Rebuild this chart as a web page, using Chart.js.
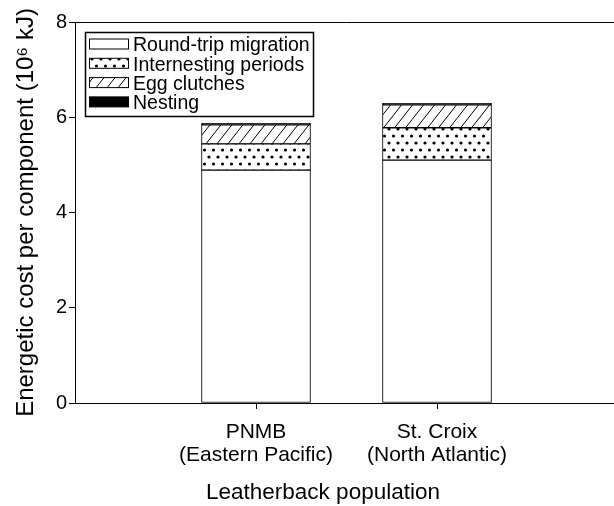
<!DOCTYPE html>
<html>
<head>
<meta charset="utf-8">
<script src="https://cdn.jsdelivr.net/npm/chart.js@4"></script>
<style>
  html, body { margin: 0; padding: 0; background: #fff; overflow: hidden; }
  #wrap { width: 614px; height: 506px; overflow: hidden; }
</style>
</head>
<body>
<div id="wrap"><canvas id="chart1" width="618" height="506"></canvas></div>
<script>
const labels = [
    '',
    ['PNMB', '(Eastern Pacific)'],
    ['St. Croix', '(North Atlantic)'],
    '',
];
const migration = [null, 4.89, 5.10, null];
const internesting = [null, 0.55, 0.68, null];
const eggs = [null, 0.40, 0.48, null];
const nesting = [null, 0.03, 0.03, null];
const yTicks = [0, 2, 4, 6, 8];

const FONT = "'Liberation Sans', Arial, Helvetica, sans-serif";

function dotPattern() {
    const c = document.createElement('canvas');
    c.width = 9; c.height = 14;
    const g = c.getContext('2d');
    g.fillStyle = '#fff';
    g.fillRect(0, 0, 9, 14);
    g.fillStyle = '#000';
    g.beginPath(); g.arc(2, 3, 1.6, 0, Math.PI * 2); g.fill();
    g.beginPath(); g.arc(6.5, 10, 1.6, 0, Math.PI * 2); g.fill();
    return g.createPattern(c, 'repeat');
}

function hatchPattern() {
    const w = 11, h = 14;
    const c = document.createElement('canvas');
    c.width = w; c.height = h;
    const g = c.getContext('2d');
    g.fillStyle = '#fff';
    g.fillRect(0, 0, w, h);
    g.strokeStyle = '#000';
    g.lineWidth = 1;
    for (let k = -1; k <= 1; k++) {
        g.beginPath();
        g.moveTo(k * w, h);
        g.lineTo(k * w + w, 0);
        g.stroke();
    }
    return g.createPattern(c, 'repeat');
}

const fills = ['#ffffff', dotPattern(), hatchPattern(), '#000000'];

const frame = {
    id: 'frame',
    afterDraw(chart) {
        const ctx = chart.ctx;
        const a = chart.chartArea;
        ctx.save();
        ctx.strokeStyle = '#000';
        ctx.lineWidth = 1;
        ctx.beginPath();
        ctx.moveTo(a.left, a.top + 0.5);
        ctx.lineTo(a.right, a.top + 0.5);
        ctx.stroke();

        // x axis title (sits left of the plot centre in the original)
        ctx.fillStyle = '#000';
        ctx.font = '22.5px ' + FONT;
        ctx.textAlign = 'center';
        ctx.textBaseline = 'middle';
        ctx.fillText('Leatherback population', 323, 493);

        // legend box
        const bx = 85.5, by = 32.5, bw = 228, bh = 84;
        ctx.fillStyle = '#fff';
        ctx.fillRect(bx, by, bw, bh);
        ctx.lineWidth = 1.5;
        ctx.strokeRect(bx, by, bw, bh);
        ctx.font = '19.5px ' + FONT;
        ctx.textAlign = 'left';
        chart.data.datasets.forEach((ds, i) => {
            const cy = 46 + i * 19.3;
            ctx.fillStyle = ds.backgroundColor;
            ctx.fillRect(89.5, cy - 7, 39, 10);
            ctx.lineWidth = 1;
            ctx.strokeStyle = '#000';
            ctx.strokeRect(89.5, cy - 7, 39, 10);
            ctx.fillStyle = '#000';
            ctx.fillText(ds.label, 133, cy);
        });
        ctx.restore();
    }
};

const data = {
    labels: labels,
    datasets: [
        { label: 'Round-trip migration', data: migration },
        { label: 'Internesting periods', data: internesting },
        { label: 'Egg clutches', data: eggs },
        { label: 'Nesting', data: nesting },
    ].map((d, i) => Object.assign(d, {
        backgroundColor: fills[i],
        borderColor: '#000',
        borderWidth: 1,
        borderSkipped: false,
        barThickness: 109,
    }))
};

const config = {
    type: 'bar',
    data,
    options: {
        responsive: false,
        animation: false,
        layout: { padding: { top: 22, right: 0, left: 0, bottom: 0 } },
        plugins: {
            legend: { display: false },
            tooltip: { enabled: false },
        },
        scales: {
            x: {
                stacked: true,
                offset: false,
                afterFit: (s) => {
                    s.height = 103;
                    s.paddingLeft = 0;
                    s.paddingRight = 0;
                },
                grid: {
                    offset: false,
                    drawOnChartArea: false,
                    tickLength: 6,
                    color: (c) => (c.index === 1 || c.index === 2) ? '#000' : 'rgba(0,0,0,0)',
                },
                border: { color: '#000', width: 1 },
                ticks: {
                    color: '#000',
                    maxRotation: 0,
                    autoSkip: false,
                    padding: 11,
                    font: { family: FONT, size: 21, lineHeight: 1.12 },
                },
            },
            y: {
                stacked: true,
                min: 0,
                max: 8,
                afterFit: (s) => { s.width = 75; },
                afterBuildTicks: (s) => { s.ticks = yTicks.map(v => ({ value: v })); },
                title: {
                    display: true,
                    text: 'Energetic cost per component (10\u2076 kJ)',
                    color: '#000',
                    font: { family: FONT, size: 24 },
                    padding: { top: 12, bottom: 0 },
                },
                grid: {
                    drawOnChartArea: false,
                    tickLength: 6,
                    color: '#000',
                },
                border: { color: '#000', width: 1 },
                ticks: {
                    color: '#000',
                    padding: 2,
                    font: { family: FONT, size: 20 },
                },
            },
        },
    },
    plugins: [frame],
};

let chart1 = new Chart(
    document.getElementById('chart1'),
    config
);
</script>
</body>
</html>
